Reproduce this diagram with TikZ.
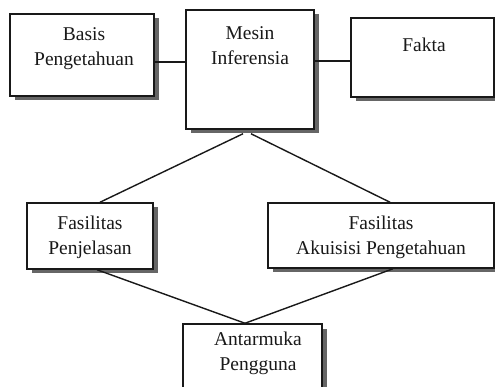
\documentclass[tikz,border=0pt]{standalone}
\usepackage{fontspec}
\setmainfont{Liberation Serif}
\usetikzlibrary{shadows,calc}
\begin{document}
\begin{tikzpicture}[x=1pt,y=1pt,
  box/.style={draw=black!90, line width=1.5pt, fill=white, inner sep=0pt,
    drop shadow={shadow xshift=4.5pt, shadow yshift=-4.5pt, fill=black!60, opacity=1}},
  txt/.style={align=center, font=\fontsize{19.5}{25}\selectfont, text=black!90, inner sep=0pt},
  conn/.style={draw=black!90, line width=1.4pt}]
\useasboundingbox (0,0) rectangle (495,-387);
\fill[white] (0,0) rectangle (495,-387);
% boxes
\node[box, minimum width=144pt, minimum height=82pt] (basis) at (82,-55) {};
\node[box, minimum width=128pt, minimum height=119pt] (mesin) at (250,-69.5) {};
\node[box, minimum width=143pt, minimum height=79pt] (fakta) at (422.5,-57.5) {};
\node[box, minimum width=126pt, minimum height=66pt] (penj) at (90,-236) {};
\node[box, minimum width=226pt, minimum height=65pt] (akuis) at (381,-235.5) {};
\node[box, minimum width=139pt, minimum height=68pt] (antar) at (252.5,-358) {};
% texts
\node[txt] (tbasis) at (84,-49) {Basis\\Pengetahuan};
\node[txt] (tmesin) at (250,-46) {Mesin\\Inferensia};
\node[txt] (tfakta) at (424,-45) {Fakta};
\node[txt] (tpenj) at (90,-237) {Fasilitas\\Penjelasan};
\node[txt] (takuis) at (381,-237) {Fasilitas\\Akuisisi Pengetahuan};
\node[txt] (tantar) at (258,-353) {Antarmuka\\Pengguna};
% connectors
\draw[conn] (basis.east |- 0,-62) -- (mesin.west |- 0,-62);
\draw[conn] (mesin.east |- 0,-61) -- (fakta.west |- 0,-61);
\draw[conn] ($(mesin.south)+(-7,-4)$) -- ($(penj.north)+(10,0)$);
\draw[conn] ($(mesin.south)+(1,-4)$) -- ($(akuis.north)+(9,0)$);
\draw[conn] ($(penj.south)+(7,0)$) -- ($(antar.north)+(-7.5,0)$);
\draw[conn] ($(akuis.south)+(12,0)$) -- ($(antar.north)+(-7.5,0)$);
\end{tikzpicture}
\end{document}
